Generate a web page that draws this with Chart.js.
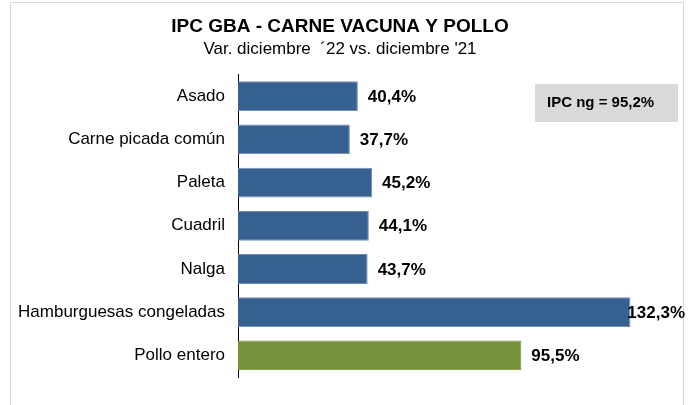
<!DOCTYPE html>
<html>
<head>
<meta charset="utf-8">
<script src="https://cdn.jsdelivr.net/npm/chart.js@4"></script>
<style>
    html, body { margin: 0; padding: 0; background: #fff; }
    #wrap { width: 691px; height: 405px; }
</style>
</head>
<body>
<div id="wrap"><canvas id="chart1" width="691" height="405"></canvas></div>
<script>
var categories = ['Asado', 'Carne picada común', 'Paleta', 'Cuadril', 'Nalga', 'Hamburguesas congeladas', 'Pollo entero'];
var values = [40.4, 37.7, 45.2, 44.1, 43.7, 132.3, 95.5];
var barColors = ['#36608f', '#36608f', '#36608f', '#36608f', '#36608f', '#36608f', '#77933c'];
var ipcText = 'IPC ng = 95,2%';

var FONT = "'Liberation Sans', Arial, sans-serif";

function fmt(v) {
    return v.toFixed(1).replace('.', ',') + '%';
}

// frame + gray box
var decor = {
    id: 'decor',
    beforeDraw: function (chart) {
        var ctx = chart.ctx;
        ctx.save();
        ctx.strokeStyle = '#d9d9d9';
        ctx.lineWidth = 1;
        ctx.strokeRect(10.5, 2.5, 673, 430);
        ctx.restore();
    },
    afterDraw: function (chart) {
        var ctx = chart.ctx;
        ctx.save();
        ctx.fillStyle = '#d9d9d9';
        ctx.fillRect(535, 84, 143, 38);
        ctx.fillStyle = '#000';
        ctx.font = 'bold 15px ' + FONT;
        ctx.textBaseline = 'middle';
        ctx.fillText(ipcText, 547, 103);
        ctx.restore();
    }
};

// value labels at bar ends
var valueLabels = {
    id: 'valueLabels',
    afterDatasetsDraw: function (chart) {
        var ctx = chart.ctx;
        var meta = chart.getDatasetMeta(0);
        ctx.save();
        ctx.font = 'bold 17px ' + FONT;
        ctx.fillStyle = '#000';
        ctx.textBaseline = 'middle';
        meta.data.forEach(function (bar, i) {
            var txt = fmt(values[i]);
            var w = ctx.measureText(txt).width;
            var x = Math.min(bar.x + 10, chart.width - w - 6);
            ctx.fillText(txt, x, bar.y + 1);
        });
        ctx.restore();
    }
};

var chart1 = new Chart(document.getElementById('chart1'), {
    type: 'bar',
    data: {
        labels: categories,
        datasets: [
            {
                data: values,
                backgroundColor: barColors,
                borderColor: ['#6f8fb8', '#6f8fb8', '#6f8fb8', '#6f8fb8', '#6f8fb8', '#6f8fb8', '#77933c'],
                borderWidth: 1,
                borderSkipped: 'left',
                categoryPercentage: 0.69,
                barPercentage: 1,
            },
        ],
    },
    options: {
        indexAxis: 'y',
        responsive: false,
        animation: false,
        layout: { padding: { left: 0, right: 11, top: 0, bottom: 28 } },
        plugins: {
            legend: { display: false },
            tooltip: { enabled: false },
            title: {
                display: true,
                text: 'IPC GBA - CARNE VACUNA Y POLLO',
                color: '#000',
                font: { family: FONT, size: 19, weight: 'bold', lineHeight: 1.1 },
                padding: { top: 16, bottom: 3 },
            },
            subtitle: {
                display: true,
                text: "Var. diciembre  ´22 vs. diciembre '21",
                color: '#000',
                font: { family: FONT, size: 17, lineHeight: 1.1 },
                padding: { top: 0, bottom: 16 },
            },
        },
        scales: {
            x: {
                display: false,
                min: 0,
                max: 149,
            },
            y: {
                afterFit: function (scale) { scale.width = 238; },
                grid: { color: 'transparent', drawTicks: false },
                border: { display: true, color: '#000', width: 1 },
                ticks: {
                    color: '#000',
                    padding: 13,
                    font: { family: FONT, size: 17 },
                },
            },
        },
    },
    plugins: [decor, valueLabels],
});
</script>
</body>
</html>
